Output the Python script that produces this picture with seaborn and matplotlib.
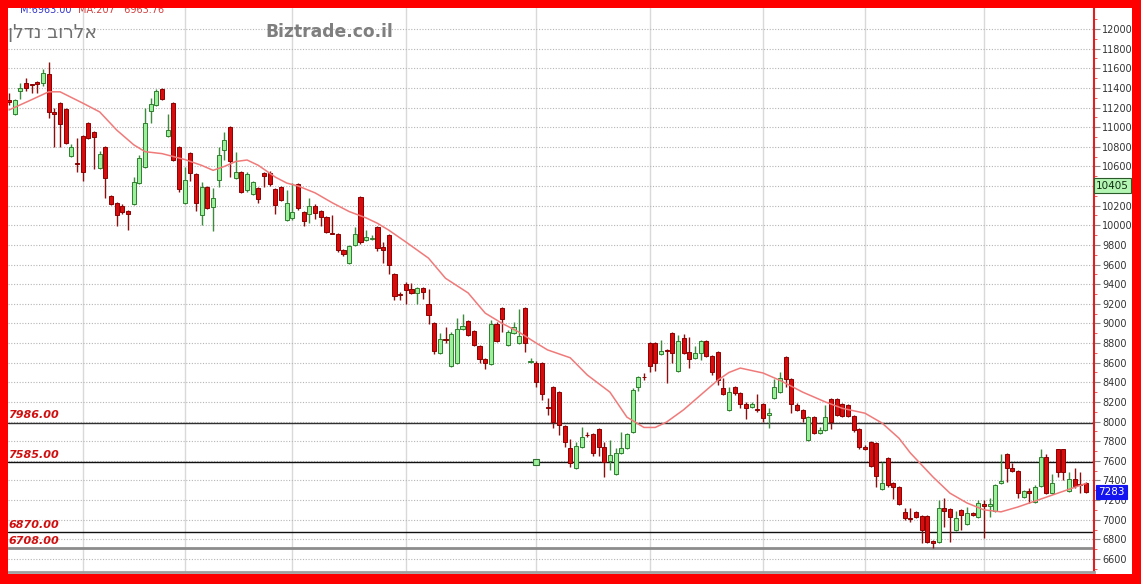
"""
Candlestick chart of the Elrov real-estate stock (Biztrade style),
with a moving-average line, support/resistance levels and price tags.
"""

import numpy as np
import pandas as pd
import matplotlib
matplotlib.use("Agg")
import matplotlib.pyplot as plt
import matplotlib.transforms as mtransforms
from matplotlib.patches import Rectangle
import seaborn as sns

# ==========================================
# DATA
# ==========================================
OPEN = [
    11280, 11130, 11370, 11450, 11435, 11460, 11450, 11540, 11150, 11250,
    11180, 10710, 10630, 10910, 11040, 10950, 10580, 10800, 10300, 10230,
    10200, 10150, 10220, 10430, 10590, 11160, 11230, 11390, 10910, 11250,
    10800, 10230, 10740, 10520, 10100, 10390, 10190, 10460, 10770, 11000,
    10480, 10540, 10360, 10320, 10380, 10530, 10530, 10370, 10390, 10050,
    10070, 10420, 10140, 10110, 10200, 10150, 10080, 9925, 9910, 9750,
    9620, 9800, 10290, 9850, 9860, 9980, 9780, 9900, 9500, 9295,
    9400, 9350, 9310, 9360, 9200, 9000, 8700, 8845, 8570, 8600,
    8940, 9020, 8920, 8770, 8640, 8590, 8990, 9160, 8780, 8900,
    8800, 9160, 8610, 8600, 8600, 8145, 8350, 8300, 7950, 7730,
    7530, 7740, 7865, 7870, 7920, 7740, 7600, 7470, 7680, 7730,
    7890, 8350, 8455, 8800, 8800, 8690, 8725, 8900, 8520, 8850,
    8710, 8650, 8700, 8820, 8670, 8710, 8340, 8120, 8350, 8290,
    8180, 8150, 8125, 8180, 8070, 8240, 8300, 8660, 8430, 8170,
    8120, 7810, 8050, 7880, 7910, 8230, 8230, 8180, 8170, 8060,
    7920, 7740, 7790, 7780, 7310, 7630, 7370, 7330, 7080, 7015,
    7080, 7040, 7040, 6780, 6770, 7120, 7110, 6890, 7100, 6960,
    7070, 7030, 7160, 7140, 7090, 7370, 7670, 7530, 7500, 7230,
    7290, 7180, 7340, 7640, 7270, 7720, 7720, 7290, 7410, 7360, 7370,
]
CLOSE = [
    11260, 11280, 11400, 11400, 11425, 11440, 11550, 11150, 11130, 11030,
    10840, 10800, 10620, 10540, 10890, 10900, 10730, 10480, 10220, 10100,
    10140, 10120, 10440, 10690, 11040, 11240, 11370, 11290, 10970, 10670,
    10370, 10460, 10530, 10230, 10390, 10180, 10280, 10720, 10870, 10650,
    10540, 10340, 10520, 10440, 10270, 10500, 10420, 10210, 10260, 10230,
    10140, 10180, 10040, 10200, 10130, 10080, 9930, 9915, 9750, 9710,
    9790, 9910, 9830, 9880, 9875, 9770, 9750, 9600, 9280, 9285,
    9340, 9310, 9360, 9320, 9090, 8720, 8840, 8835, 8890, 8940,
    8970, 8880, 8780, 8640, 8600, 8990, 8820, 9050, 8910, 8960,
    8870, 8800, 8620, 8400, 8280, 8135, 8000, 7960, 7790, 7580,
    7750, 7840, 7860, 7680, 7740, 7590, 7660, 7680, 7730, 7870,
    8320, 8450, 8450, 8570, 8600, 8720, 8715, 8700, 8820, 8700,
    8640, 8700, 8820, 8670, 8500, 8420, 8280, 8300, 8290, 8180,
    8140, 8180, 8115, 8040, 8090, 8350, 8440, 8430, 8180, 8120,
    8040, 8050, 7880, 7910, 8050, 8000, 8070, 8060, 8060, 7910,
    7740, 7725, 7550, 7450, 7370, 7350, 7330, 7160, 7020, 7005,
    7030, 6900, 6770, 6760, 7120, 7090, 7030, 7020, 7050, 7070,
    7050, 7170, 7140, 7160, 7350, 7390, 7530, 7500, 7270, 7290,
    7270, 7330, 7640, 7270, 7370, 7490, 7490, 7410, 7340, 7350, 7283,
]
HIGH = [
    11350, 11290, 11450, 11500, 11440, 11470, 11590, 11660, 11200, 11260,
    11190, 10830, 10890, 10920, 11050, 10960, 10760, 10810, 10310, 10240,
    10220, 10160, 10490, 10720, 11200, 11300, 11390, 11400, 11130, 11260,
    10810, 10590, 10750, 10530, 10440, 10400, 10380, 10800, 10950, 11010,
    10750, 10550, 10540, 10450, 10390, 10540, 10550, 10380, 10400, 10360,
    10430, 10430, 10150, 10280, 10220, 10160, 10090, 10100, 9920, 9760,
    9800, 9980, 10300, 9950, 9900, 9990, 9830, 9910, 9510, 9320,
    9420, 9410, 9370, 9370, 9350, 9010, 8900, 8960, 8910, 9060,
    9100, 9030, 8930, 8780, 8650, 9030, 9010, 9170, 8930, 9010,
    9150, 9170, 8650, 8620, 8610, 8240, 8360, 8310, 7960, 7820,
    7790, 7940, 7890, 7880, 7930, 7790, 7810, 7730, 7890, 7880,
    8340, 8460, 8490, 8810, 8810, 8830, 8740, 8910, 8880, 8890,
    8860, 8770, 8830, 8830, 8680, 8720, 8440, 8350, 8360, 8300,
    8200, 8200, 8280, 8190, 8140, 8430, 8500, 8670, 8440, 8190,
    8130, 8060, 8060, 7940, 8170, 8240, 8240, 8190, 8180, 8070,
    7930, 7760, 7800, 7790, 7590, 7640, 7380, 7340, 7120, 7120,
    7090, 7050, 7050, 6790, 7200, 7220, 7120, 7090, 7110, 7130,
    7080, 7200, 7200, 7220, 7360, 7670, 7680, 7580, 7510, 7300,
    7320, 7350, 7720, 7670, 7470, 7720, 7720, 7490, 7530, 7490, 7380,
]
LOW = [
    11230, 11120, 11290, 11370, 11350, 11350, 11420, 11090, 10800, 10800,
    10830, 10700, 10540, 10450, 10880, 10570, 10570, 10280, 10210, 9990,
    10110, 9950, 10210, 10420, 10580, 11040, 11220, 11280, 10900, 10650,
    10340, 10220, 10450, 10150, 10000, 10170, 9940, 10390, 10670, 10490,
    10470, 10330, 10340, 10310, 10230, 10390, 10400, 10110, 10250, 10040,
    10050, 10160, 9990, 10020, 10060, 9990, 9920, 9910, 9730, 9690,
    9610, 9790, 9810, 9840, 9850, 9740, 9620, 9500, 9240, 9240,
    9200, 9300, 9200, 9250, 8990, 8690, 8690, 8800, 8560, 8590,
    8930, 8870, 8770, 8600, 8540, 8580, 8810, 8910, 8770, 8890,
    8790, 8710, 8600, 8350, 8220, 8070, 7930, 7860, 7740, 7540,
    7520, 7730, 7840, 7650, 7650, 7430, 7510, 7460, 7670, 7720,
    7880, 8310, 8420, 8500, 8520, 8680, 8390, 8600, 8510, 8690,
    8550, 8640, 8630, 8660, 8470, 8370, 8270, 8110, 8270, 8140,
    8030, 8140, 8100, 8000, 7930, 8230, 8290, 8350, 8090, 8110,
    8000, 7800, 7870, 7870, 7900, 7920, 8060, 8050, 8050, 7890,
    7720, 7710, 7540, 7330, 7300, 7330, 7210, 7150, 7000, 6980,
    7020, 6760, 6760, 6710, 6760, 6930, 6770, 6880, 6900, 6950,
    7040, 7020, 6810, 7030, 7080, 7360, 7380, 7490, 7220, 7220,
    7170, 7170, 7330, 7260, 7260, 7430, 7400, 7280, 7320, 7270, 7270,
]

# moving average line (candle index, value)
MA_POS = [0, 4, 7, 9, 13, 16, 19, 22, 24, 27, 29, 31, 34, 36, 38, 40, 42, 44,
          47, 49, 51, 54, 57, 60, 63, 65, 67, 70, 74, 77, 81, 84, 87, 90, 93,
          95, 99, 102, 106, 109, 112, 114, 116, 119, 122, 125, 127, 129, 133,
          136, 140, 144, 147, 151, 154, 157, 159, 163, 166, 169, 172, 175, 178,
          181, 185, 188, 190]
MA_VAL = [11175, 11280, 11360, 11360, 11245, 11155, 10970, 10820, 10750, 10730,
          10700, 10670, 10610, 10560, 10600, 10650, 10665, 10610, 10490, 10430,
          10400, 10330, 10230, 10140, 10075, 10020, 9950, 9830, 9665, 9460,
          9310, 9105, 9000, 8910, 8800, 8730, 8650, 8475, 8300, 8045,
          7940, 7940, 7995, 8120, 8270, 8420, 8500, 8545, 8495, 8420,
          8300, 8200, 8135, 8085, 7985, 7830, 7680, 7435, 7270, 7170,
          7100, 7080, 7130, 7190, 7270, 7330, 7370]

# support / resistance levels
LEVELS = [7986.00, 7585.00, 6870.00, 6708.00]
LEVEL_COLORS = ['#303030', '#101010', '#101010', '#8c8c8c']
LEVEL_WIDTHS = [1.0, 1.0, 1.0, 2.0]

# month separators (candle index)
MONTH_POS = [13, 31, 50, 70, 93, 113, 133, 151, 172]

# anchor point of the 7585 level
ANCHOR_POS = 93
ANCHOR_VAL = 7585.00

Y_TICKS = list(range(6600, 12001, 200))
LAST_PRICE = 7283
TAG_PRICE = 10405

TITLE_HE = 'אלרוב נדלן'
SITE = 'Biztrade.co.il'

# ==========================================
# FIGURE
# ==========================================
sns.set_style('white')
plt.rcParams['font.family'] = ['DejaVu Sans']

W, H = 1141, 584
fig = plt.figure(figsize=(W / 100, H / 100), dpi=100, facecolor='white')
ax = fig.add_axes([8 / W, 12 / H, (1094 - 8) / W, (572 - 8) / H])
ax.set_facecolor('white')

df = pd.DataFrame({'open': OPEN, 'high': HIGH, 'low': LOW, 'close': CLOSE})
df['pos'] = np.arange(len(df))
up = df['close'] > df['open']

# grid
for p in MONTH_POS:
    ax.axvline(p, color='#d9d9d9', lw=1.0, zorder=0)
ax.set_yticks(Y_TICKS)
ax.yaxis.grid(True, ls=(0, (1, 1.5)), color='#b5b5b5', lw=0.8)
ax.set_axisbelow(True)

# levels
for lev, c, lw in zip(LEVELS, LEVEL_COLORS, LEVEL_WIDTHS):
    ax.axhline(lev, color=c, lw=lw, zorder=1)
    ax.text(-0.1, lev + 25, f'{lev:.2f}', color='#d01010', fontsize=8,
            fontweight='bold', fontstyle='italic', ha='left', va='bottom', zorder=2)

# wicks
ax.vlines(df.loc[up, 'pos'], df.loc[up, 'low'], df.loc[up, 'high'],
          color='#3c8c3c', lw=1.0, zorder=3)
ax.vlines(df.loc[~up, 'pos'], df.loc[~up, 'low'], df.loc[~up, 'high'],
          color='#8a1010', lw=1.0, zorder=3)

# bodies
body_lo = df[['open', 'close']].min(axis=1)
body_h = (df['close'] - df['open']).abs()
ax.bar(df.loc[up, 'pos'], body_h[up], bottom=body_lo[up], width=0.72,
       color='#9cf09c', edgecolor='#2f7f2f', linewidth=0.7, zorder=4)
ax.bar(df.loc[~up, 'pos'], body_h[~up], bottom=body_lo[~up], width=0.72,
       color='#d80c0c', edgecolor='#8c0000', linewidth=0.7, zorder=4)

# moving average
sns.lineplot(x=MA_POS, y=MA_VAL, ax=ax, color='#f07a7a', lw=1.1, zorder=5)

ax.plot([ANCHOR_POS], [ANCHOR_VAL], marker='s', ms=5, mfc='#9cf09c',
        mec='#2f6f2f', mew=0.8, zorder=6)

ax.set_xlim(-0.18, 191.4)
ax.set_ylim(6467, 12214)

# axes styling
ax.set_xticks([])
ax.yaxis.tick_right()
ax.tick_params(axis='y', direction='out', length=4, width=0.8, color='#888888',
               labelsize=7, labelcolor='#333333', pad=2)
ax.set_yticks(list(range(6500, 12200, 100)), minor=True)
ax.tick_params(axis='y', which='minor', direction='out', length=2,
               color='#e04040', width=0.6)
for side in ['left', 'top']:
    ax.spines[side].set_visible(False)
ax.spines['right'].set_color('#e02020')
ax.spines['right'].set_linewidth(1.5)
ax.spines['bottom'].set_color('#a0a0a0')
ax.spines['bottom'].set_linewidth(2)
ax.set_xlabel('')
ax.set_ylabel('')

# price tags on the right axis
trans = mtransforms.blended_transform_factory(ax.transAxes, ax.transData)
ax.text(1.002, TAG_PRICE, f'{TAG_PRICE}', transform=trans, ha='left', va='center',
        fontsize=7.5, color='#103010', clip_on=False, zorder=8,
        bbox=dict(boxstyle='square,pad=0.2', fc='#b4f5b4', ec='#2a5a2a', lw=0.8))
ax.text(1.004, LAST_PRICE, f'{LAST_PRICE}', transform=trans, ha='left', va='center',
        fontsize=7.5, color='white', clip_on=False, zorder=8,
        bbox=dict(boxstyle='square,pad=0.2', fc='#1414f0', ec='#1414f0', lw=0.8))

# header texts (matplotlib draws left to right, so the Hebrew is reversed)
fig.text(8 / W, 1 - 32 / H, TITLE_HE[::-1], fontsize=13.5, color='#707070',
         ha='left', va='center')
fig.text(265 / W, 1 - 32 / H, SITE, fontsize=12.3, fontweight='bold',
         color='#7f7f7f', ha='left', va='center')
fig.text(20 / W, 1 - 13 / H, 'M:6963.00', fontsize=7, color='#3434c8', zorder=3)
fig.text(78 / W, 1 - 13 / H, 'MA:207   6963.76', fontsize=7, color='#d04040', zorder=3)

# red frame
for (x0, y0, w, h) in [(0, 0, 8, H), (1132, 0, W - 1132, H),
                       (0, 0, W, 10), (0, H - 8, W, 8)]:
    fig.add_artist(Rectangle((x0 / W, y0 / H), w / W, h / H,
                             transform=fig.transFigure, fc='#ff0000',
                             ec='none', zorder=10))

fig.savefig('out.png', dpi=100, facecolor='white')
plt.close(fig)
